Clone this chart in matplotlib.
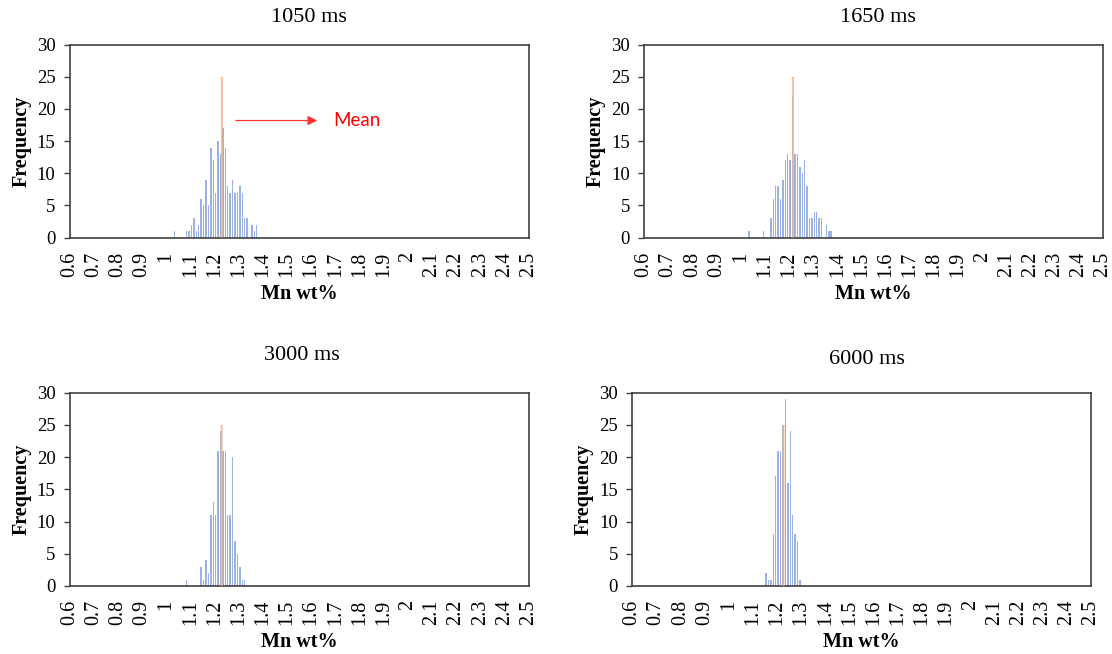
import numpy as np
import matplotlib
matplotlib.use("Agg")
import matplotlib.pyplot as plt

plt.rcParams['font.family'] = ['Liberation Serif', 'DejaVu Serif']

# Mn wt% histograms, 0.01 wide bins, one panel per holding time
titles = ["1050 ms", "1650 ms", "3000 ms", "6000 ms"]

start_1050 = 1.03
counts_1050 = [1, 0, 0, 0, 0, 1, 1, 2, 3, 1, 2, 6, 5, 9, 5, 14, 12, 7, 15, 13,
               17, 14, 8, 7, 9, 7, 7, 8, 7, 3, 3, 0, 2, 1, 2]

start_1650 = 1.03
counts_1650 = [1, 0, 0, 0, 0, 0, 1, 0, 0, 3, 6, 8, 8, 6, 9, 12, 13, 12, 22, 13,
               13, 11, 10, 12, 8, 3, 3, 4, 4, 3, 3, 0, 2, 1, 1]

start_3000 = 1.08
counts_3000 = [1, 0, 0, 0, 0, 0, 3, 1, 4, 2, 11, 13, 11, 21, 24, 21, 21, 11, 11,
               20, 7, 5, 3, 1, 1]

start_6000 = 1.15
counts_6000 = [2, 1, 1, 8, 17, 21, 21, 25, 29, 16, 24, 11, 8, 7, 1]

# mean Mn wt% of each run, drawn as a marker bar
mean_values = [1.231, 1.217, 1.230, 1.227]
mean_height = 25

starts = [start_1050, start_1650, start_3000, start_6000]
counts = [counts_1050, counts_1650, counts_3000, counts_6000]

x_ticks = [0.6, 0.7, 0.8, 0.9, 1.0, 1.1, 1.2, 1.3, 1.4, 1.5, 1.6, 1.7, 1.8,
           1.9, 2.0, 2.1, 2.2, 2.3, 2.4, 2.5]
x_tick_labels = ["0.6", "0.7", "0.8", "0.9", "1", "1.1", "1.2", "1.3", "1.4",
                 "1.5", "1.6", "1.7", "1.8", "1.9", "2", "2.1", "2.2", "2.3",
                 "2.4", "2.5"]
y_ticks = [0, 5, 10, 15, 20, 25, 30]

W, H = 1112, 654
fig = plt.figure(figsize=(W / 100, H / 100), dpi=100)

# axes boxes in pixels: left, top, right, bottom
boxes = [(69.5, 44.7, 528.5, 237.5),
         (644, 44.7, 1103, 237.5),
         (69.5, 392.7, 528.5, 586),
         (632, 392.7, 1091, 586)]
title_pos = [(309, 17), (878, 17), (302, 356), (867, 359)]

blue = '#9AB3E2'
orange = '#F4B183'
spine_col = '#404040'

for k in range(4):
    l, t, r, b = boxes[k]
    ax = fig.add_axes([l / W, 1 - b / H, (r - l) / W, (b - t) / H])
    bins = np.round(starts[k] + 0.01 * np.arange(len(counts[k])), 2)
    ax.bar(bins + 0.005, counts[k], width=0.006, color=blue, zorder=2)
    ax.bar(mean_values[k], mean_height, width=0.008, color=orange,
           alpha=0.85, zorder=3, snap=False)

    ax.set_xlim(0.6, 2.5)
    ax.set_ylim(0, 30)
    ax.set_xticks(x_ticks)
    ax.set_xticklabels(x_tick_labels, rotation=90, fontsize=14.5)
    ax.set_yticks(y_ticks)
    ax.tick_params(axis='y', labelsize=13.5, length=4, width=1,
                   color=spine_col, pad=6)
    ax.tick_params(axis='x', length=0, pad=10)
    for s in ax.spines.values():
        s.set_color(spine_col)
        s.set_linewidth(1.2)

    ax.set_xlabel("Mn wt%", fontsize=14.5, fontweight='bold', labelpad=5)
    ax.set_ylabel("Frequency", fontsize=14.5, fontweight='bold', labelpad=4)
    fig.text(title_pos[k][0] / W, 1 - title_pos[k][1] / H, titles[k],
             fontsize=16, ha='center', va='center')

    if k == 0:
        ax.annotate('', xy=(1.637, 18.2), xytext=(1.277, 18.2),
                    arrowprops=dict(arrowstyle='-|>', color='#FF3333',
                                    lw=0.9, mutation_scale=14))
        ax.text(1.69, 18.2, "Mean", color='red', fontsize=13.5,
                family=['Lato', 'DejaVu Sans'], va='center', ha='left')

fig.savefig("out.png", dpi=100)
